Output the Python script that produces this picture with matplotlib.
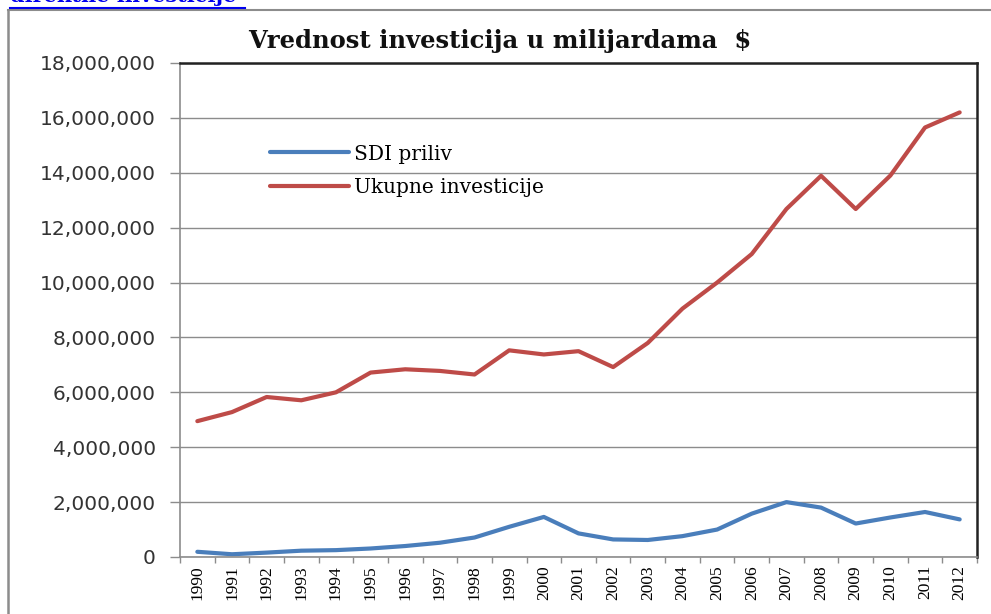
# -*- coding: utf-8 -*-
import matplotlib
matplotlib.use('Agg')
import matplotlib.pyplot as plt
from matplotlib.lines import Line2D
from matplotlib.ticker import FuncFormatter, MultipleLocator
import numpy as np

# data
years = ['1990', '1991', '1992', '1993', '1994', '1995', '1996', '1997', '1998', '1999', '2000',
         '2001', '2002', '2003', '2004', '2005', '2006', '2007', '2008', '2009', '2010', '2011', '2012']
sdi_priliv = [190000, 100000, 160000, 230000, 250000, 310000, 400000, 520000, 710000, 1100000, 1460000,
              860000, 640000, 620000, 760000, 1000000, 1580000, 2000000, 1800000, 1220000, 1440000,
              1640000, 1370000]
ukupne = [4950000, 5280000, 5830000, 5710000, 6000000, 6720000, 6840000, 6780000, 6650000, 7530000,
          7380000, 7500000, 6920000, 7800000, 9050000, 10000000, 11040000, 12680000, 13890000,
          12680000, 13900000, 15650000, 16200000]
series_names = ['SDI priliv', 'Ukupne investicije']

W, H = 991, 614
PX = 72 / 100  # pixels -> points
f = plt.figure(figsize=(W / 100, H / 100), dpi=100)
f.patch.set_facecolor('white')

# plot area in pixel terms
ax = f.add_axes([180 / W, 1 - 557 / H, (977 - 180) / W, (557 - 63) / H])

x = np.arange(len(years))
ax.plot(x, sdi_priliv, color='#4a7ebb', linewidth=3, label=series_names[0], solid_capstyle='round')
ax.plot(x, ukupne, color='#be4b48', linewidth=3, label=series_names[1], solid_capstyle='round')

ax.set_xlim(-0.5, len(years) - 0.5)
ax.set_ylim(0, 18000000)
ax.yaxis.set_major_locator(MultipleLocator(2000000))
ax.yaxis.set_major_formatter(FuncFormatter(lambda v, p: '{:,.0f}'.format(v)))
ax.grid(axis='y', color='#8c8c8c', linewidth=1)
ax.set_axisbelow(True)

# category labels in the middle, tick marks on the boundaries
ax.set_xticks(x)
ax.set_xticklabels(years, rotation=90, family='Liberation Serif', fontsize=12.5)
ax.set_xticks(np.arange(-0.5, len(years)), minor=True)
ax.tick_params(axis='x', which='major', length=0, pad=8 * PX)
ax.tick_params(axis='x', which='minor', length=6 * PX, direction='out', color='#8c8c8c', width=1)
ax.tick_params(axis='y', length=10 * PX, direction='out', color='#8c8c8c', width=1, pad=14 * PX,
               labelsize=14.5, labelcolor='#333333')

for s in ['left', 'bottom']:
    ax.spines[s].set_color('#8c8c8c')
    ax.spines[s].set_linewidth(1.2)
for s in ['top', 'right']:
    ax.spines[s].set_color('#222222')
    ax.spines[s].set_linewidth(1.8)

ax.legend(loc='upper left', bbox_to_anchor=(0.113, 0.835), frameon=False, borderpad=0,
          borderaxespad=0, handlelength=3.9, handletextpad=0.25, labelspacing=0.72,
          prop={'family': 'DejaVu Serif', 'size': 14.5})

# title
f.text(500 / W, 1 - 48 / H, 'Vrednost investicija u milijardama  $', ha='center', va='baseline',
       family='DejaVu Serif', fontweight='bold', fontsize=17.5, color='#111111')

# outer chart frame, cut off on the right and bottom
f.add_artist(Line2D([8 / W, 8 / W], [0, 1 - 10 / H], color='#8c8c8c', linewidth=1.8))
f.add_artist(Line2D([8 / W, 1], [1 - 10 / H, 1 - 10 / H], color='#8c8c8c', linewidth=1.5))

# link text above the chart, mostly cut off as in the source
f.text(10 / W, 1 - 2.5 / H, 'direktne investicije', ha='left', va='baseline', family='DejaVu Serif',
       fontweight='bold', fontsize=15, color='#0000ee')
f.add_artist(Line2D([10 / W, 245 / W], [1 - 8 / H, 1 - 8 / H], color='#0000ee', linewidth=1.5))

f.savefig('out.png', dpi=100)
